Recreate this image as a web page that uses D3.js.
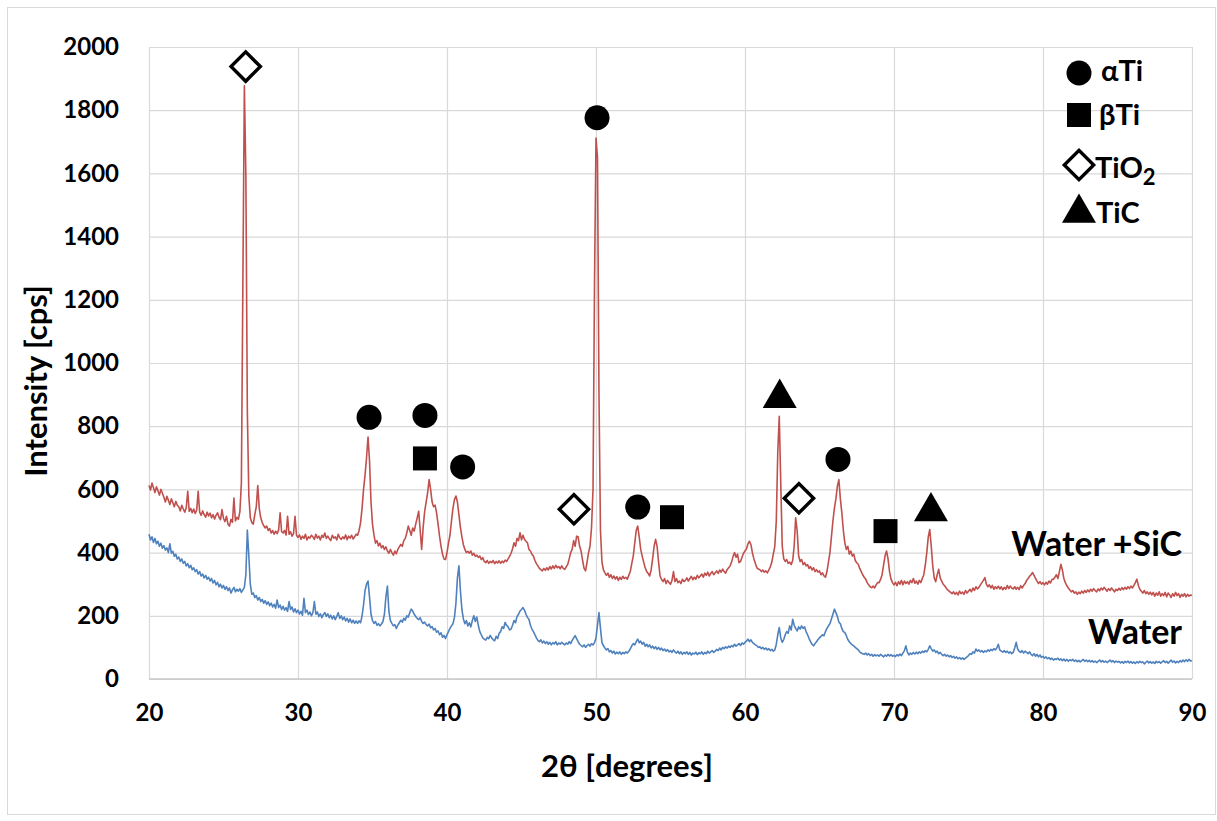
<!DOCTYPE html>
<html>
<head>
<meta charset="utf-8">
<script src="https://cdn.jsdelivr.net/npm/d3@7"></script>
<style>
	body { margin: 0; background: #fff; }
	svg text { font-family: Lato, 'Open Sans', sans-serif; font-weight: 700; fill: #000; }
</style>
</head>
<body>
<svg id="chart" width="1217" height="821"></svg>
<script>
// scan step of the diffractometer, one block per 10 degrees
const angleStep = 0.1;
const blockStarts = [20, 30, 40, 50, 60, 70, 80];

// Water +SiC, intensity in cps
const sicFrom20 = [
	612, 598, 620, 605, 590, 608, 596, 582, 600, 588,
	575, 560, 578, 566, 552, 570, 558, 545, 562, 550,
	545, 532, 550, 538, 528, 542, 594, 530, 540, 526,
	538, 524, 534, 594, 528, 518, 532, 520, 512, 528,
	516, 525, 510, 520, 506, 518, 526, 512, 504, 536,
	508, 498, 515, 490, 484, 505, 496, 573, 500, 512,
	505, 530, 620, 1250, 1877, 1600, 850, 580, 510, 495,
	490, 520, 545, 612, 540, 510, 495, 485, 478, 484,
	470, 476, 462, 470, 458, 468, 460, 472, 526, 466,
	462, 470, 456, 515, 458, 466, 452, 460, 515, 455
];
const sicFrom30 = [
	448, 456, 442, 452, 445, 458, 440, 450, 446, 455,
	450, 442, 458, 446, 452, 440, 455, 448, 462, 445,
	452, 444, 438, 455, 446, 450, 440, 458, 447, 442,
	450, 444, 456, 441, 452, 446, 455, 443, 450, 458,
	455, 470, 495, 540, 600, 645, 700, 766, 690, 560,
	490, 455, 430, 438, 421, 430, 415, 422, 410, 418,
	405, 398, 410, 400, 392, 405, 396, 410, 418, 426,
	420, 438, 445, 462, 484, 470, 455, 478, 468, 490,
	510, 531, 470, 410, 480, 530, 560, 590, 631, 600,
	560, 545, 550, 526, 490, 452, 420, 395, 380, 378
];
const sicFrom40 = [
	400, 430, 455, 500, 540, 568, 579, 560, 520, 480,
	450, 425, 410, 400, 404, 398, 405, 392, 398, 388,
	392, 385, 389, 378, 384, 372, 368, 375, 366, 372,
	368, 375, 365, 372, 367, 374, 366, 373, 368, 376,
	372, 380, 388, 398, 412, 431, 420, 445, 438, 463,
	440, 455, 442, 436, 431, 410, 405, 395, 389, 375,
	365, 358, 350, 346, 342, 350, 344, 352, 345, 356,
	348, 358, 350, 360, 352, 356, 349, 358, 350, 347,
	355, 362, 380, 400, 410, 438, 420, 452, 450, 420,
	405, 375, 350, 342, 370, 400, 421, 480, 600, 1250
];
const sicFrom50 = [
	1712, 1650, 900, 470, 370, 345, 336, 328, 335, 322,
	330, 318, 326, 316, 324, 312, 322, 315, 325, 318,
	322, 316, 328, 340, 365, 389, 430, 470, 484, 450,
	410, 389, 370, 352, 340, 334, 326, 345, 380, 420,
	442, 420, 370, 326, 315, 308, 318, 302, 312, 305,
	300, 312, 340, 308, 318, 305, 310, 302, 316, 308,
	312, 320, 310, 318, 325, 314, 322, 316, 328, 320,
	326, 332, 322, 335, 328, 338, 326, 334, 340, 330,
	336, 342, 334, 345, 338, 348, 340, 335, 346, 352,
	358, 370, 388, 400, 385, 395, 368, 372, 385, 398
];
const sicFrom60 = [
	405, 412, 428, 436, 425, 398, 380, 365, 352, 348,
	346, 340, 345, 338, 342, 336, 345, 355, 370, 395,
	420, 500, 720, 831, 620, 420, 380, 372, 378, 366,
	370, 362, 375, 420, 510, 470, 390, 372, 378, 362,
	368, 358, 362, 350, 356, 345, 352, 340, 346, 338,
	342, 330, 336, 326, 322, 340, 370, 400, 450, 500,
	540, 570, 610, 631, 570, 526, 470, 431, 410, 420,
	395, 405, 389, 395, 375, 368, 363, 350, 340, 330,
	322, 316, 305, 298, 292, 289, 294, 288, 298, 305,
	305, 315, 330, 360, 390, 405, 380, 340, 316, 305
];
const sicFrom70 = [
	298, 306, 295, 308, 300, 312, 298, 310, 302, 308,
	300, 312, 305, 318, 303, 310, 300, 312, 305, 318,
	330, 360, 400, 450, 473, 420, 358, 320, 308, 330,
	347, 320, 310, 300, 295, 288, 282, 278, 274, 270,
	276, 268, 274, 266, 278, 270, 275, 268, 280, 272,
	278, 284, 276, 288, 280, 292, 285, 290, 298, 305,
	312, 321, 300, 292, 298, 288, 296, 284, 292, 286,
	294, 285, 292, 282, 290, 284, 296, 286, 294, 288,
	285, 292, 284, 290, 283, 295, 288, 296, 302, 312,
	318, 325, 330, 337, 328, 318, 310, 302, 308, 300
];
const sicFrom80 = [
	305, 298, 306, 300, 310, 304, 315, 316, 322, 330,
	318, 340, 363, 345, 318, 305, 295, 288, 282, 276,
	280, 272, 276, 268, 275, 270, 278, 272, 280, 274,
	282, 276, 284, 278, 286, 280, 276, 285, 279, 288,
	282, 290, 284, 278, 286, 280, 288, 282, 276, 284,
	280, 287, 281, 289, 283, 290, 284, 292, 286, 294,
	288, 296, 305, 316, 296, 284, 278, 272, 280, 270,
	276, 268, 275, 266, 274, 262, 272, 265, 276, 262,
	270, 264, 274, 260, 272, 266, 258, 270, 262, 274,
	264, 270, 258, 268, 262, 270, 260, 268, 262, 266, 264
];

// Water, intensity in cps
const waterFrom20 = [
	458, 440, 450, 432, 445, 428, 436, 420, 430, 414,
	422, 408, 415, 400, 428, 398, 404, 388, 395, 380,
	386, 372, 380, 366, 372, 358, 365, 352, 360, 346,
	352, 340, 346, 332, 340, 326, 332, 320, 328, 316,
	322, 310, 318, 304, 312, 298, 306, 292, 300, 288,
	296, 284, 292, 280, 288, 272, 282, 290, 276, 284,
	278, 286, 274, 282, 290, 330, 471, 390, 300, 268,
	272, 258, 264, 250, 258, 245, 252, 240, 248, 236,
	244, 232, 240, 228, 236, 224, 250, 226, 234, 220,
	230, 218, 226, 214, 245, 220, 228, 212, 222, 210
];
const waterFrom30 = [
	218, 206, 214, 202, 255, 210, 218, 204, 212, 200,
	210, 245, 205, 212, 198, 206, 194, 204, 210, 198,
	206, 194, 202, 190, 200, 188, 198, 210, 192, 200,
	188, 196, 184, 192, 180, 190, 178, 186, 176, 184,
	176, 184, 178, 200, 235, 280, 300, 310, 260, 205,
	185, 176, 182, 170, 175, 168, 174, 182, 205, 260,
	294, 215, 185, 176, 168, 172, 160, 170, 178, 186,
	180, 192, 186, 200, 196, 210, 221, 215, 205, 198,
	192, 188, 194, 182, 176, 180, 172, 168, 174, 162,
	166, 155, 160, 148, 152, 140, 146, 132, 138, 128
];
const waterFrom40 = [
	140, 150, 160, 168, 175, 195, 240, 320, 358, 280,
	220, 190, 175, 185, 168, 178, 165, 185, 200, 182,
	196, 170, 150, 140, 130, 126, 123, 132, 128, 138,
	130, 124, 121, 135, 128, 145, 150, 165, 160, 179,
	170, 165, 155, 158, 170, 185, 178, 198, 205, 215,
	220, 226, 218, 205, 195, 189, 170, 158, 150, 140,
	130, 122, 118, 124, 114, 120, 112, 118, 110, 116,
	108, 115, 111, 118, 108, 114, 110, 116, 112, 108,
	114, 110, 118, 112, 122, 130, 137, 128, 118, 110,
	106, 102, 108, 100, 106, 110, 104, 112, 108, 115
];
const waterFrom50 = [
	130, 170, 210, 160, 115, 105, 98, 92, 96, 86,
	90, 82, 88, 79, 85, 80, 86, 78, 84, 80,
	86, 82, 88, 95, 105, 112, 108, 118, 126, 115,
	120, 110, 116, 104, 110, 102, 108, 98, 104, 96,
	102, 94, 100, 92, 98, 90, 95, 88, 93, 86,
	90, 84, 92, 86, 82, 88, 80, 86, 78, 84,
	80, 86, 78, 84, 76, 82, 79, 85, 77, 83,
	80, 86, 78, 84, 80, 88, 82, 86, 90, 84,
	88, 94, 90, 98, 92, 100, 96, 102, 98, 104,
	100, 106, 102, 110, 104, 108, 112, 106, 114, 110
];
const waterFrom60 = [
	116, 120, 126, 118, 124, 116, 112, 108, 105, 100,
	102, 96, 100, 94, 98, 92, 96, 90, 94, 88,
	92, 110, 140, 163, 130, 116, 125, 140, 150, 145,
	168, 155, 189, 170, 160, 152, 165, 158, 168, 160,
	165, 150, 140, 128, 118, 110, 105, 112, 118, 125,
	130, 135, 140, 137, 150, 160, 168, 175, 190, 205,
	221, 210, 198, 180, 175, 160, 150, 147, 137, 125,
	118, 112, 108, 105, 100, 96, 92, 86, 82, 80,
	78, 82, 76, 80, 74, 78, 72, 77, 73, 76,
	72, 78, 74, 70, 76, 72, 78, 73, 77, 72
];
const waterFrom70 = [
	75, 71, 77, 73, 79, 74, 82, 90, 105, 85,
	76, 82, 78, 84, 79, 85, 80, 86, 82, 88,
	84, 90, 86, 94, 105, 96, 88, 92, 84, 88,
	80, 84, 78, 74, 78, 72, 76, 70, 74, 68,
	72, 66, 70, 64, 68, 63, 67, 62, 66, 70,
	74, 80, 78, 86, 82, 95, 88, 92, 86, 90,
	84, 89, 86, 92, 88, 94, 90, 96, 92, 98,
	110, 92, 88, 85, 90, 84, 88, 82, 86, 80,
	84, 98, 116, 95, 88, 84, 90, 82, 88, 84,
	80, 86, 78, 74, 80, 72, 78, 70, 76, 68
];
const waterFrom80 = [
	72, 66, 70, 64, 68, 62, 66, 60, 64, 62,
	66, 60, 64, 58, 63, 57, 62, 56, 61, 58,
	62, 56, 60, 55, 59, 54, 58, 62, 56, 60,
	55, 59, 54, 58, 53, 57, 52, 56, 60, 54,
	58, 53, 57, 52, 56, 60, 54, 58, 52, 57,
	53, 56, 51, 55, 50, 56, 52, 57, 51, 55,
	50, 54, 49, 55, 51, 56, 52, 54, 48, 53,
	57, 51, 55, 50, 54, 49, 56, 52, 55, 50,
	54, 58, 52, 56, 50, 55, 60, 53, 57, 51,
	56, 52, 58, 54, 60, 55, 61, 56, 62, 57, 58
];

const sicBlocks = [sicFrom20, sicFrom30, sicFrom40, sicFrom50, sicFrom60, sicFrom70, sicFrom80];
const waterBlocks = [waterFrom20, waterFrom30, waterFrom40, waterFrom50, waterFrom60, waterFrom70, waterFrom80];

const xTicks = [20, 30, 40, 50, 60, 70, 80, 90];
const yTicks = [0, 200, 400, 600, 800, 1000, 1200, 1400, 1600, 1800, 2000];

const seriesNames = ['Water +SiC', 'Water'];
const seriesColors = ['#c0504d', '#4f81bd'];
const labelAngles = [89.33, 89.33];
const labelCounts = [389, 111];

// phase marks placed over the peaks
const phaseNames = ['αTi', 'βTi', 'TiO2', 'TiC'];
const markerPhases = ['TiO2', 'αTi', 'αTi', 'βTi', 'αTi', 'TiO2', 'αTi', 'αTi', 'βTi', 'TiC', 'TiO2', 'αTi', 'βTi', 'TiC'];
const markerAngles = [26.49, 34.77, 38.52, 38.52, 41.05, 48.52, 50.07, 52.8, 55.1, 62.33, 63.62, 66.24, 69.43, 72.48];
const markerCounts = [1938, 828, 834, 698, 671, 537, 1776, 544, 512, 889, 572, 695, 468, 530];

const XrdChart = {
	plot: { left: 149, right: 1192, top: 47, bottom: 679 },
	gridColor: '#d9d9d9',

	draw: function() {
		const self = this;
		let svg = d3.select('#chart');
		let x = d3.scaleLinear()
			.domain([ 20, 90 ])
			.range([ self.plot.left, self.plot.right ]);
		let y = d3.scaleLinear()
			.domain([ 0, 2000 ])
			.range([ self.plot.bottom, self.plot.top ]);

		svg.append('rect')
			.attr('x', 7.5)
			.attr('y', 7.5)
			.attr('width', 1208)
			.attr('height', 807)
			.style('fill', '#fff')
			.style('stroke', self.gridColor);

		self.drawAxes(svg, x, y);
		self.drawSeries(svg, x, y, self.buildSeries(waterBlocks), seriesColors[1]);
		self.drawSeries(svg, x, y, self.buildSeries(sicBlocks), seriesColors[0]);
		self.drawSeriesLabels(svg, x, y);
		self.drawMarkers(svg, x, y);
		self.drawLegend(svg);
	},

	buildSeries: function(blocks) {
		let points = [];

		for (let i = 0; i < blocks.length; i++)
			for (let j = 0; j < blocks[i].length; j++)
				points.push({
					angle: blockStarts[i] + j * angleStep,
					count: blocks[i][j]
				});

		return points;
	},
	drawAxes: function(svg, x, y) {
		const self = this;
		let plotWidth = self.plot.right - self.plot.left;
		let plotHeight = self.plot.bottom - self.plot.top;

		let xAxis = svg.append('g')
			.attr('transform', 'translate(0,' + self.plot.bottom + ')')
			.call(d3.axisBottom(x)
				.tickValues(xTicks)
				.tickSize(-plotHeight)
				.tickPadding(25)
				.tickFormat(d3.format('d')));
		let yAxis = svg.append('g')
			.attr('transform', 'translate(' + self.plot.left + ',0)')
			.call(d3.axisLeft(y)
				.tickValues(yTicks)
				.tickSize(-plotWidth)
				.tickPadding(30)
				.tickFormat(d3.format('d')));

		[ xAxis, yAxis ].forEach(function(axis) {
			axis.select('.domain').remove();
			axis.selectAll('.tick line')
				.style('stroke', self.gridColor)
				.style('stroke-width', 1.2);
			axis.selectAll('.tick text')
				.style('font-family', 'Lato, sans-serif')
				.style('font-size', '24px')
				.style('font-weight', 700)
				.style('fill', '#000');
		});

		svg.append('line')
			.attr('x1', self.plot.left)
			.attr('x2', self.plot.right)
			.attr('y1', self.plot.bottom)
			.attr('y2', self.plot.bottom)
			.style('stroke', '#c8c8c8')
			.style('stroke-width', 1.5);

		svg.append('text')
			.attr('x', 627)
			.attr('y', 777)
			.attr('text-anchor', 'middle')
			.style('font-size', '31px')
			.text('2θ [degrees]');

		svg.append('text')
			.attr('transform', 'translate(47,381) rotate(-90)')
			.attr('text-anchor', 'middle')
			.style('font-size', '31px')
			.text('Intensity [cps]');
	},
	drawSeries: function(svg, x, y, points, color) {
		let line = d3.line()
			.x(function(d) { return x(d.angle); })
			.y(function(d) { return y(d.count); });

		svg.append('path')
			.datum(points)
			.attr('d', line)
			.style('fill', 'none')
			.style('stroke', color)
			.style('stroke-width', 1.6)
			.style('stroke-linejoin', 'round');
	},
	drawSeriesLabels: function(svg, x, y) {
		for (let i = 0; i < seriesNames.length; i++)
			svg.append('text')
				.attr('x', x(labelAngles[i]))
				.attr('y', y(labelCounts[i]))
				.attr('text-anchor', 'end')
				.style('font-size', '34px')
				.text(seriesNames[i]);
	},

	// markers

	symbolPath: function(phase) {
		if (phase == 'αTi')
			return d3.symbol(d3.symbolCircle, 491)();
		if (phase == 'βTi')
			return d3.symbol(d3.symbolSquare, 576)();
		if (phase == 'TiO2')
			return d3.symbol(d3.symbolSquare, 430)();

		return d3.symbol(d3.symbolTriangle, 500)();
	},
	appendSymbol: function(svg, phase, cx, cy) {
		const self = this;
		let isOpen = phase == 'TiO2';
		let rotation = isOpen ? ' rotate(45)' : '';

		svg.append('path')
			.attr('d', self.symbolPath(phase))
			.attr('transform', 'translate(' + cx + ',' + cy + ')' + rotation)
			.style('fill', isOpen ? '#fff' : '#000')
			.style('stroke', isOpen ? '#000' : 'none')
			.style('stroke-width', isOpen ? 3.4 : 0);
	},
	drawMarkers: function(svg, x, y) {
		const self = this;

		for (let i = 0; i < markerPhases.length; i++)
			self.appendSymbol(svg, markerPhases[i], x(markerAngles[i]), y(markerCounts[i]));
	},
	drawLegend: function(svg) {
		const self = this;
		let symbolX = 1079;
		let textX = [ 1101, 1099, 1095, 1096 ];
		let symbolY = [ 73, 115, 165, 213 ];
		let baselines = [ 81, 125, 178, 223 ];

		for (let i = 0; i < phaseNames.length; i++) {
			self.appendSymbol(svg, phaseNames[i], symbolX, symbolY[i]);

			let label = svg.append('text')
				.attr('x', textX[i])
				.attr('y', baselines[i])
				.style('font-size', '29px');

			if (phaseNames[i] == 'TiO2') {
				label.append('tspan').text('TiO');
				label.append('tspan')
					.attr('dy', 7)
					.style('font-size', '22px')
					.text('2');
			} else {
				label.text(phaseNames[i]);
			}
		}
	}
};

XrdChart.draw();
</script>
</body>
</html>
